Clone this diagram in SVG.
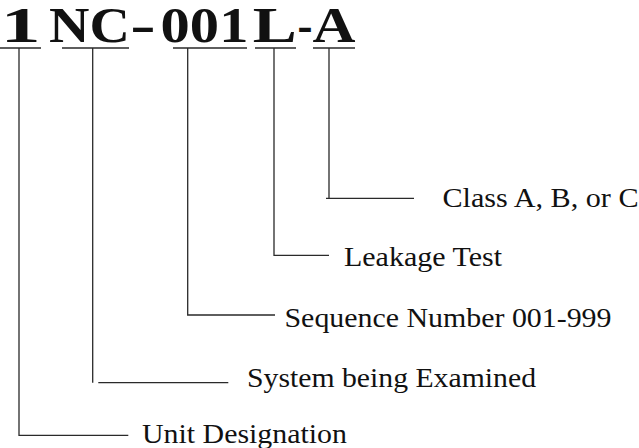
<svg xmlns="http://www.w3.org/2000/svg" width="639" height="448" viewBox="0 0 639 448">
  <style>
    .code { font-family: 'Liberation Serif', 'Times New Roman', serif; font-weight: 700; font-size: 51px; fill: #111; }
    .label { font-family: 'Liberation Serif', 'Times New Roman', serif; font-size: 28px; fill: #111; }
    .wire { fill: none; stroke: #2a2a2a; stroke-width: 1.3; }
  </style>
  <rect width="639" height="448" fill="#fff"/>

  <!-- identifier code, each field drawn separately -->
  <g id="code">
    <text class="code" x="0.8" y="41.5" textLength="39.8" lengthAdjust="spacingAndGlyphs">1</text>
    <text class="code" x="49.1" y="41.5" textLength="80.9" lengthAdjust="spacingAndGlyphs">NC</text>
    <text class="code" x="130.2" y="41.5" textLength="25.4" lengthAdjust="spacingAndGlyphs">-</text>
    <text class="code" x="160.6" y="41.5" textLength="87.8" lengthAdjust="spacingAndGlyphs">001</text>
    <text class="code" x="252.7" y="41.5" textLength="44" lengthAdjust="spacingAndGlyphs">L</text>
    <text class="code" x="297.4" y="41.5" textLength="15" lengthAdjust="spacingAndGlyphs">-</text>
    <text class="code" x="312.6" y="41.5" textLength="43" lengthAdjust="spacingAndGlyphs">A</text>
  </g>

  <!-- field descriptions -->
  <g id="class-label">
    <text class="label" x="442.5" y="206.5" textLength="196" lengthAdjust="spacingAndGlyphs">Class A, B, or C</text>
  </g>
  <g id="leakage-label">
    <text class="label" x="344" y="265.5" textLength="158" lengthAdjust="spacingAndGlyphs">Leakage Test</text>
  </g>
  <g id="sequence-label">
    <text class="label" x="284.5" y="326.5" textLength="327" lengthAdjust="spacingAndGlyphs">Sequence Number 001-999</text>
  </g>
  <g id="system-label">
    <text class="label" x="247" y="386.5" textLength="289" lengthAdjust="spacingAndGlyphs">System being Examined</text>
  </g>
  <g id="unit-label">
    <text class="label" x="142" y="442.7" textLength="205" lengthAdjust="spacingAndGlyphs">Unit Designation</text>
  </g>

  <!-- underlines and elbow leaders -->
  <g id="connectors" class="wire">
    <path d="M0 48 H41 M19 48 V435.3 H128.3"/>
    <path d="M62 48 H129 M92.7 48 V382.7 M98.3 382.7 H228.3"/>
    <path d="M173 48 H247 M187.7 48 V315 H275"/>
    <path d="M255 48 H296 M274 48 V255.3 H329"/>
    <path d="M313 48 H355 M329 48 V198.3 M326 198.3 H414"/>
  </g>
</svg>
